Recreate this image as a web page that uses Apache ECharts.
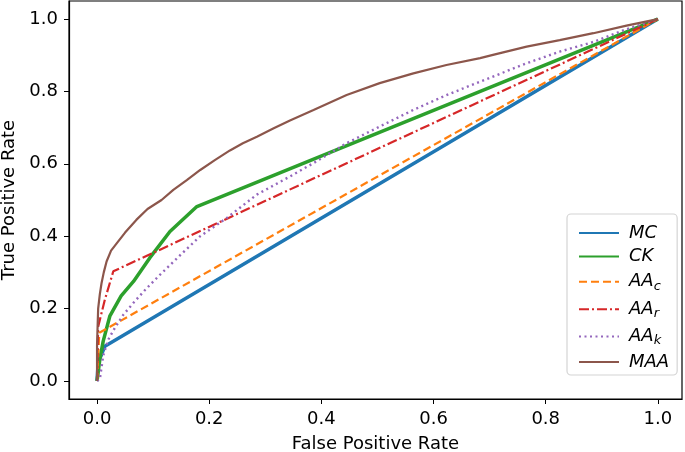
<!DOCTYPE html>
<html>
<head>
<meta charset="utf-8">
<script src="https://cdn.jsdelivr.net/npm/echarts@6/dist/echarts.min.js"></script>
<style>
html,body{margin:0;padding:0;background:#fff;}
#chart{width:685px;height:452px;}
</style>
</head>
<body>
<div id="chart"></div>
<script>
// ---- data ----
const seriesNames = ['MC', 'CK', 'AA_c', 'AA_r', 'AA_k', 'MAA'];
const xTicks = [0.0, 0.2, 0.4, 0.6, 0.8, 1.0];
const yTicks = [0.0, 0.2, 0.4, 0.6, 0.8, 1.0];

const mcFpr = [0, 0.002, 0.014, 1];
const mcTpr = [0, 0.05, 0.096, 1];

const ckFpr = [0, 0.005, 0.011, 0.023, 0.043, 0.065, 0.094, 0.13, 0.178, 1];
const ckTpr = [0, 0.06, 0.11, 0.18, 0.235, 0.275, 0.34, 0.413, 0.482, 1];

const aacFpr = [0, 0.002, 0.004, 1];
const aacTpr = [0, 0.07, 0.133, 1];

const aarFpr = [0, 0.001, 0.002, 0.014, 0.029, 1];
const aarTpr = [0, 0.08, 0.15, 0.225, 0.303, 1];

const aakFpr = [0, 0.005, 0.011, 0.02, 0.032, 0.047, 0.065, 0.086, 0.11, 0.15, 0.184, 0.231, 0.285, 0.344, 0.386, 0.445, 0.504, 0.564, 0.623, 0.683, 0.766, 0.825, 0.885, 0.944, 1];
const aakTpr = [0, 0.005, 0.07, 0.114, 0.147, 0.183, 0.216, 0.252, 0.29, 0.35, 0.40, 0.45, 0.515, 0.565, 0.602, 0.657, 0.703, 0.749, 0.79, 0.827, 0.878, 0.91, 0.937, 0.972, 1];

const maaFpr = [0, 0, 0.001, 0.002, 0.005, 0.008, 0.012, 0.017, 0.025, 0.035, 0.05, 0.07, 0.09, 0.115, 0.136, 0.16, 0.184, 0.21, 0.237, 0.26, 0.285, 0.315, 0.344, 0.386, 0.445, 0.504, 0.564, 0.623, 0.683, 0.706, 0.766, 0.825, 0.885, 0.944, 1];
const maaTpr = [0, 0.10, 0.15, 0.20, 0.24, 0.27, 0.30, 0.33, 0.36, 0.38, 0.41, 0.445, 0.475, 0.50, 0.528, 0.555, 0.583, 0.61, 0.637, 0.657, 0.675, 0.698, 0.72, 0.749, 0.79, 0.823, 0.85, 0.873, 0.892, 0.901, 0.924, 0.942, 0.961, 0.982, 1];

const colors = ['#1f77b4', '#2ca02c', '#ff7f0e', '#d62728', '#9467bd', '#8c564b'];
const widths = [3.5, 3.5, 2.2, 2.2, 2.4, 2.2];
const dashes = ['solid', 'solid', [8, 4], [10, 3, 2, 3], [2, 3.5], 'solid'];

// ---- build ----
const xs = [mcFpr, ckFpr, aacFpr, aarFpr, aakFpr, maaFpr];
const ys = [mcTpr, ckTpr, aacTpr, aarTpr, aakTpr, maaTpr];
const FONT = 'DejaVu Sans';

const series = seriesNames.map((n, i) => ({
  name: n,
  type: 'line',
  data: xs[i].map((x, k) => [x, ys[i][k]]),
  showSymbol: false,
  symbol: 'none',
  smooth: false,
  clip: false,
  lineStyle: { color: colors[i], width: widths[i], type: dashes[i] },
  itemStyle: { color: colors[i] },
  z: 2 + i
}));

const chart = echarts.init(document.getElementById('chart'), null, { renderer: 'canvas' });
chart.setOption({
  animation: false,
  backgroundColor: '#fff',
  grid: {
    left: 69, top: 1, right: 3, bottom: 53,
    outerBoundsMode: 'none',
    containLabel: false,
    show: true, borderColor: '#000', borderWidth: 1.2, backgroundColor: 'transparent'
  },
  xAxis: {
    type: 'value',
    min: -0.05, max: 1.043,
    splitLine: { show: false },
    axisLine: { show: true, onZero: false, lineStyle: { color: '#000', width: 1.2 } },
    axisTick: { show: true, length: 5, lineStyle: { color: '#000', width: 1 }, customValues: xTicks },
    axisLabel: {
      customValues: xTicks, margin: 11, color: '#000', fontFamily: FONT, fontSize: 18,
      formatter: v => v.toFixed(1)
    },
    name: 'False Positive Rate',
    nameLocation: 'middle',
    nameGap: 36,
    nameTextStyle: { color: '#000', fontFamily: FONT, fontSize: 18 }
  },
  yAxis: {
    type: 'value',
    min: -0.05, max: 1.05,
    splitLine: { show: false },
    axisLine: { show: true, onZero: false, lineStyle: { color: '#000', width: 1.2 } },
    axisTick: { show: true, length: 5, lineStyle: { color: '#000', width: 1 }, customValues: yTicks },
    axisLabel: {
      customValues: yTicks, margin: 11, color: '#000', fontFamily: FONT, fontSize: 18,
      formatter: v => v.toFixed(1)
    },
    name: 'True Positive Rate',
    nameLocation: 'middle',
    nameGap: 50,
    nameRotate: 90,
    nameTextStyle: { color: '#000', fontFamily: FONT, fontSize: 18 }
  },
  legend: {
    orient: 'vertical',
    left: 567, top: 214,
    padding: [10, 8, 4, 11],
    itemWidth: 40, itemHeight: 14, itemGap: 5.4,
    backgroundColor: 'rgba(255,255,255,0.8)',
    borderColor: '#d4d4d4', borderWidth: 1.2, borderRadius: 4,
    itemStyle: { opacity: 0 },
    data: seriesNames,
    formatter: name => {
      const p = name.split('_');
      return p.length > 1 ? '{it|' + p[0] + '}{sub|' + p[1] + '}' : '{it|' + name + '}';
    },
    textStyle: {
      color: '#000', fontFamily: FONT, fontSize: 18, fontStyle: 'italic',
      rich: {
        it: { fontFamily: FONT, fontSize: 18, fontStyle: 'italic', lineHeight: 22, padding: [0, 0, 0, 5], color: '#000' },
        sub: { fontFamily: FONT, fontSize: 13, fontStyle: 'italic', lineHeight: 13, padding: [9, 0, 0, 0], color: '#000' }
      }
    }
  },
  series: series
});
</script>
</body>
</html>
